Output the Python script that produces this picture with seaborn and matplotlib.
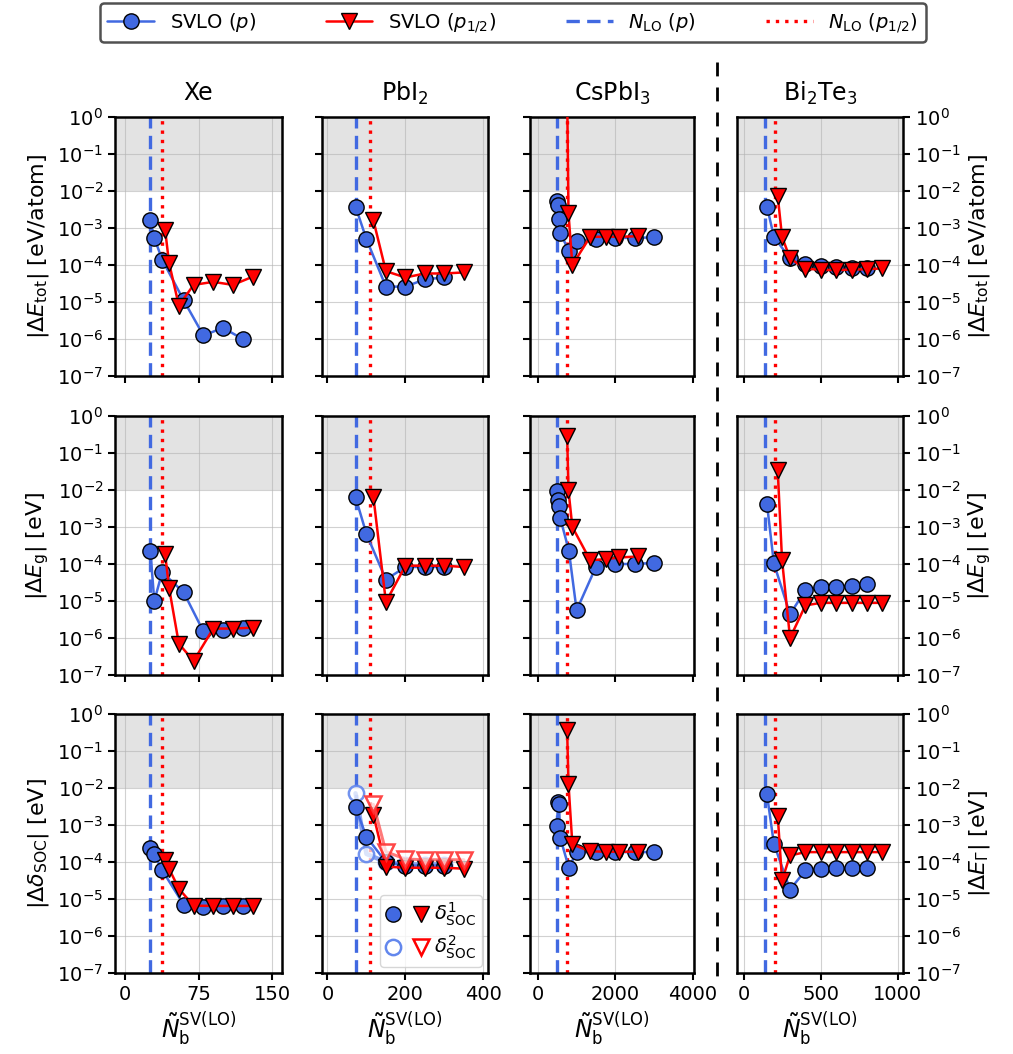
import numpy as np
import matplotlib
matplotlib.use("Agg")
import matplotlib.pyplot as plt
import seaborn as sns
from matplotlib.lines import Line2D
from matplotlib.legend_handler import HandlerTuple
from matplotlib.ticker import NullLocator, FixedLocator

sns.set_style("ticks")
plt.rcParams['font.family'] = ['DejaVu Sans']
plt.rcParams['mathtext.fontset'] = 'dejavusans'
plt.rcParams.update({
    "text.color": "black", "axes.labelcolor": "black", "axes.edgecolor": "black",
    "xtick.color": "black", "ytick.color": "black",
})

BLUE = "royalblue"
RED = "red"

# ---------------- data ----------------
materials = ["Xe", "PbI$_2$", "CsPbI$_3$", "Bi$_2$Te$_3$"]

# Xe
xe_xp = [26, 30, 38, 60, 80, 100, 120]
xe_xh = [41, 45, 55, 70, 90, 110, 130]
xe_etot_p = [1.6e-3, 5.4e-4, 1.4e-4, 1.1e-5, 1.25e-6, 2e-6, 1e-6]
xe_etot_h = [9e-4, 1.15e-4, 8e-6, 2.9e-5, 3.5e-5, 2.9e-5, 4.8e-5]
xe_eg_p = [2.3e-4, 1e-5, 6e-5, 1.7e-5, 1.5e-6, 1.65e-6, 1.9e-6]
xe_eg_h = [1.9e-4, 2.3e-5, 7e-7, 2.4e-7, 1.8e-6, 1.8e-6, 1.9e-6]
xe_soc_p = [2.4e-4, 1.6e-4, 6e-5, 7e-6, 6.2e-6, 6.5e-6, 6.5e-6]
xe_soc_h = [1.1e-4, 6.6e-5, 1.9e-5, 6.6e-6, 6.5e-6, 6.5e-6, 6.5e-6]
xe_nlo = [26, 38]

# PbI2
pb_xp = [72, 100, 150, 200, 250, 300]
pb_xh = [118, 150, 200, 250, 300, 350]
pb_etot_p = [3.8e-3, 5e-4, 2.6e-5, 2.6e-5, 4.1e-5, 4.6e-5]
pb_etot_h = [1.6e-3, 6.8e-5, 4.6e-5, 5.9e-5, 5.9e-5, 6.3e-5]
pb_eg_p = [6.4e-3, 6.5e-4, 3.8e-5, 8.3e-5, 8.3e-5, 8.3e-5]
pb_eg_h = [6.4e-3, 9.4e-6, 9e-5, 9e-5, 9e-5, 8.3e-5]
pb_soc1_p = [3e-3, 4.8e-4, 1e-4, 8e-5, 8e-5, 8e-5]
pb_soc1_h = [1.85e-3, 7.5e-5, 7e-5, 7e-5, 7e-5, 6.6e-5]
pb_soc2_p = [7.2e-3, 1.65e-4, 1e-4, 8.5e-5, 8.5e-5, 8.5e-5]
pb_soc2_h = [3.6e-3, 1.9e-4, 1.2e-4, 1.15e-4, 1.15e-4, 1.15e-4]
pb_nlo = [72, 108]

# CsPbI3
cs_xp = [493, 519, 544, 580, 800, 1000, 1500, 2000, 2500, 3000]
cs_xh = [755, 790, 890, 1350, 1750, 2100, 2600]
cs_etot_p = [5.5e-3, 4.2e-3, 1.8e-3, 7.2e-4, 2.4e-4, 4.5e-4, 5.1e-4, 5.4e-4, 5.4e-4, 5.6e-4]
cs_etot_h = [5.0, 2.5e-3, 1e-4, 5.8e-4, 5.8e-4, 5.8e-4, 6e-4]
cs_eg_p = [9.5e-3, 5.5e-3, 3.6e-3, 1.7e-3, 2.3e-4, 5.6e-6, 8.4e-5, 1e-4, 1e-4, 1.07e-4]
cs_eg_h = [0.29, 9.8e-3, 1e-3, 1.27e-4, 1.35e-4, 1.5e-4, 1.6e-4]
cs_soc_p = [9.5e-4, 4.2e-3, 3.8e-3, 4.4e-4, 7e-5, 1.85e-4, 1.85e-4, 1.85e-4, 1.85e-4, 1.85e-4]
cs_soc_h = [0.36, 1.3e-2, 3e-4, 1.95e-4, 1.9e-4, 1.9e-4, 1.9e-4]
cs_nlo = [493, 750]

# Bi2Te3
bt_xp = [150, 195, 300, 400, 500, 600, 700, 800]
bt_xh = [220, 248, 300, 400, 500, 600, 700, 800, 900]
bt_etot_p = [3.8e-3, 5.8e-4, 1.5e-4, 1.07e-4, 9.4e-5, 8.7e-5, 8.4e-5, 8.3e-5]
bt_etot_h = [7.3e-3, 5.8e-4, 1.5e-4, 8e-5, 7.4e-5, 7.3e-5, 7.5e-5, 7.7e-5, 8.1e-5]
bt_eg_p = [4.2e-3, 1.04e-4, 4.4e-6, 1.95e-5, 2.4e-5, 2.4e-5, 2.6e-5, 2.8e-5]
bt_eg_h = [3.4e-2, 1.3e-4, 1e-6, 7.6e-6, 8.9e-6, 8.9e-6, 8.9e-6, 8.9e-6, 8.9e-6]
bt_gam_p = [6.7e-3, 3.1e-4, 1.8e-5, 5.9e-5, 6.6e-5, 6.8e-5, 6.8e-5, 6.8e-5]
bt_gam_h = [1.8e-3, 3.2e-5, 1.5e-4, 1.85e-4, 1.85e-4, 1.85e-4, 1.85e-4, 1.85e-4, 1.85e-4]
bt_nlo = [140, 200]

xlims = [(-10, 160), (-14, 412), (-205, 4035), (-45, 1035)]
xticks = [[0, 75, 150], [0, 200, 400], [0, 2000, 4000], [0, 500, 1000]]
ylabels_left = [r"$|\Delta E_{\rm tot}|$ [eV/atom]", r"$|\Delta E_{\rm g}|$ [eV]",
                r"$|\Delta \delta_{\rm SOC}|$ [eV]"]
ylabels_right = [r"$|\Delta E_{\rm tot}|$ [eV/atom]", r"$|\Delta E_{\rm g}|$ [eV]",
                 r"$|\Delta E_{\Gamma}|$ [eV]"]

panels = [
    [(xe_xp, xe_etot_p, xe_xh, xe_etot_h), (pb_xp, pb_etot_p, pb_xh, pb_etot_h),
     (cs_xp, cs_etot_p, cs_xh, cs_etot_h), (bt_xp, bt_etot_p, bt_xh, bt_etot_h)],
    [(xe_xp, xe_eg_p, xe_xh, xe_eg_h), (pb_xp, pb_eg_p, pb_xh, pb_eg_h),
     (cs_xp, cs_eg_p, cs_xh, cs_eg_h), (bt_xp, bt_eg_p, bt_xh, bt_eg_h)],
    [(xe_xp, xe_soc_p, xe_xh, xe_soc_h), (pb_xp, pb_soc1_p, pb_xh, pb_soc1_h),
     (cs_xp, cs_soc_p, cs_xh, cs_soc_h), (bt_xp, bt_gam_p, bt_xh, bt_gam_h)],
]
nlos = [xe_nlo, pb_nlo, cs_nlo, bt_nlo]

# ---------------- figure ----------------
W, H = 1013, 1054
fig = plt.figure(figsize=(W / 100, H / 100), dpi=100)

col_px = [(115, 282), (322, 488), (530, 694), (737, 903)]
row_px = [(117, 376), (416, 675), (714, 973)]

MS_C = 11
MS_T = 11
DASH = (0, (4, 2.2))
DOT = (0, (1, 1.8))

def box(c, r):
    x0, x1 = col_px[c]
    y0, y1 = row_px[r]
    return [x0 / W, 1 - y1 / H, (x1 - x0) / W, (y1 - y0) / H]

axes = {}
for r in range(3):
    for c in range(4):
        ax = fig.add_axes(box(c, r))
        axes[(r, c)] = ax
        ax.set_yscale("log")
        ax.set_ylim(1e-7, 1)
        ax.set_xlim(*xlims[c])
        ax.axhspan(1e-2, 1, color="0.89", zorder=0, lw=0)
        ax.yaxis.set_major_locator(FixedLocator([10.0 ** k for k in range(-7, 1)]))
        ax.yaxis.set_minor_locator(NullLocator())
        ax.xaxis.set_major_locator(FixedLocator(xticks[c]))
        ax.grid(True, color="0.7", lw=0.8, alpha=0.6, zorder=0.5)
        ax.set_axisbelow(True)
        for s in ax.spines.values():
            s.set_linewidth(1.8)
            s.set_color("black")
        ax.tick_params(axis="both", which="major", labelsize=14, width=1.5, length=5,
                       colors="black")

        xp, yp, xh, yh = panels[r][c]
        n_p, n_h = nlos[c]
        ax.axvline(n_p, color=BLUE, ls=DASH, lw=2.4, zorder=2)
        ax.axvline(n_h, color=RED, ls=DOT, lw=2.4, zorder=2)

        if (r, c) == (2, 1):
            # delta^2 SOC (open markers)
            sns.lineplot(x=pb_xp, y=pb_soc2_p, ax=ax, estimator=None, sort=False,
                         color=(0.39, 0.53, 0.93, 0.75), lw=3.2, marker="o",
                         markersize=MS_C, markeredgewidth=1.8,
                         markeredgecolor=(0.39, 0.53, 0.93, 0.9),
                         markerfacecolor=(1, 1, 1, 0.7), zorder=3)
        sns.lineplot(x=xp, y=yp, ax=ax, estimator=None, sort=False, color=BLUE, lw=1.8,
                     marker="o", markersize=MS_C, markeredgecolor="k",
                     markeredgewidth=1.0, zorder=4)
        sns.lineplot(x=xh, y=yh, ax=ax, estimator=None, sort=False, color=RED, lw=1.8,
                     marker="v", markersize=MS_T, markeredgecolor="k",
                     markeredgewidth=1.0, zorder=5)
        if (r, c) == (2, 1):
            sns.lineplot(x=pb_xh, y=pb_soc2_h, ax=ax, estimator=None, sort=False,
                         color=(1.0, 0.3, 0.3, 0.75), lw=2.2, marker="v",
                         markersize=MS_T, markeredgewidth=1.8,
                         markeredgecolor=(1.0, 0.2, 0.2, 0.9),
                         markerfacecolor=(1, 1, 1, 0.7), zorder=6)

        ax.set_xlabel("")
        ax.set_ylabel("")
        if r < 2:
            ax.tick_params(labelbottom=False)
        else:
            ax.set_xlabel(r"$\tilde{N}_{\rm b}^{\rm SV(LO)}$", fontsize=17)
        if c == 0:
            ax.set_ylabel(ylabels_left[r], fontsize=16)
        elif c == 3:
            ax.yaxis.tick_right()
            ax.yaxis.set_label_position("right")
            ax.set_ylabel(ylabels_right[r], fontsize=16)
        else:
            ax.tick_params(labelleft=False)
        if r == 0:
            ax.set_title(materials[c], fontsize=17, pad=12)

# legend inside PbI2 SOC panel
ax = axes[(2, 1)]
f_c = Line2D([], [], ls="none", marker="o", ms=MS_C, mfc=BLUE, mec="k")
f_t = Line2D([], [], ls="none", marker="v", ms=MS_T, mfc=RED, mec="k")
o_c = Line2D([], [], ls="none", marker="o", ms=MS_C, mfc="white", mec=(0.39, 0.53, 0.93), mew=1.8)
o_t = Line2D([], [], ls="none", marker="v", ms=MS_T, mfc="white", mec=RED, mew=1.8)
ax.legend([(f_c, f_t), (o_c, o_t)], [r"$\delta^{1}_{\rm SOC}$", r"$\delta^{2}_{\rm SOC}$"],
          handler_map={tuple: HandlerTuple(ndivide=None, pad=0.6)},
          loc="lower right", fontsize=14, handlelength=2.2, handletextpad=0.3,
          borderpad=0.3, labelspacing=0.3, framealpha=0.8, borderaxespad=0.3)

# top legend
h1 = Line2D([], [], color=BLUE, lw=1.8, marker="o", ms=MS_C, mec="k", label=r"SVLO ($p$)")
h2 = Line2D([], [], color=RED, lw=1.8, marker="v", ms=MS_T, mec="k", label=r"SVLO ($p_{1/2}$)")
h3 = Line2D([], [], color=BLUE, lw=2.4, ls=DASH, label=r"$N_{\rm LO}$ ($p$)")
h4 = Line2D([], [], color=RED, lw=2.4, ls=DOT, label=r"$N_{\rm LO}$ ($p_{1/2}$)")
leg = fig.legend(handles=[h1, h2, h3, h4], loc="upper center", ncol=4,
                 bbox_to_anchor=(0.506, 1.0), fontsize=14, frameon=True,
                 columnspacing=3.6, handlelength=2.4, handletextpad=0.8,
                 borderpad=0.4, fancybox=True, borderaxespad=0.15)
leg.get_frame().set_edgecolor("0.15")
leg.get_frame().set_linewidth(1.8)

# separator between CsPbI3 and Bi2Te3
fig.add_artist(Line2D([717 / W, 717 / W], [1 - 62 / H, 1 - 980 / H],
                      transform=fig.transFigure, color="k", ls=(0, (5, 4)), lw=2))

fig.savefig("out.png", dpi=100)
